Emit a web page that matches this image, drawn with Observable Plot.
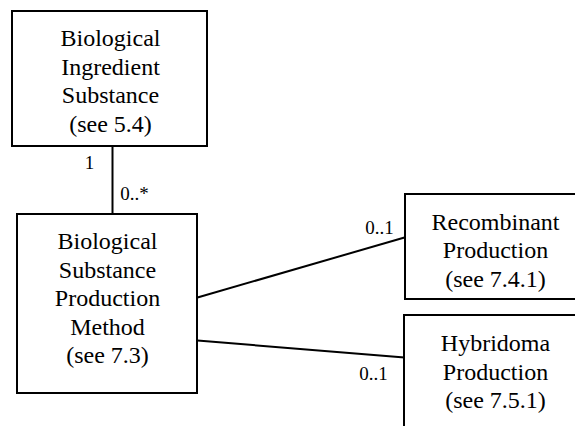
<!DOCTYPE html>
<html><head><meta charset="utf-8">
<script src="https://cdn.jsdelivr.net/npm/d3@7"></script>
<script src="https://cdn.jsdelivr.net/npm/@observablehq/plot@0.6"></script>
<style>html,body{margin:0;padding:0;background:#fff;overflow:hidden}</style>
</head><body><div id="chart"></div>
<script>
// Classes (boxes) of the UML diagram
const classNames = [
  "Biological\nIngredient\nSubstance\n(see 5.4)",
  "Biological\nSubstance\nProduction\nMethod\n(see 7.3)",
  "Recombinant\nProduction\n(see 7.4.1)",
  "Hybridoma\nProduction\n(see 7.5.1)"
];
const classLeft = [12, 17, 405, 404];
const classRight = [207, 197, 592, 592];
const classTop = [11, 214, 194, 315];
const classBottom = [146, 393, 299, 445];
const classTextX = [110, 107, 495, 495];
const classTextY = [79.5, 296.5, 248.5, 370];

// Associations
const assocX1 = [112, 197, 197];
const assocY1 = [146, 297, 340];
const assocX2 = [112, 404, 404];
const assocY2 = [214, 237, 357];

// Multiplicity labels
const multText = ["1", "0..*", "0..1", "0..1"];
const multX = [89, 134, 379, 373];
const multY = [162, 193, 227, 373];

const boxes = classNames.map((name, i) => ({
  name, x1: classLeft[i], x2: classRight[i], y1: classTop[i], y2: classBottom[i],
  tx: classTextX[i], ty: classTextY[i]
}));
const assocs = assocX1.map((x, i) => ({x1: x, y1: assocY1[i], x2: assocX2[i], y2: assocY2[i]}));
const mults = multText.map((t, i) => ({t, x: multX[i], y: multY[i]}));

const chart = Plot.plot({
  width: 575,
  height: 426,
  margin: 0,
  x: {domain: [0, 575], range: [0, 575], axis: null},
  y: {domain: [0, 426], range: [0, 426], axis: null},
  marks: [
    Plot.link(assocs, {x1: "x1", y1: "y1", x2: "x2", y2: "y2", stroke: "black", strokeWidth: 2}),
    Plot.rect(boxes, {x1: "x1", x2: "x2", y1: "y1", y2: "y2", fill: "white", stroke: "black", strokeWidth: 2, clip: true}),
    Plot.text(boxes, {x: "tx", y: "ty", text: "name", fontSize: 24, lineHeight: 1.19, fontFamily: "Times New Roman"}),
    Plot.text(mults, {x: "x", y: "y", text: "t", fontSize: 19, fontFamily: "serif"})
  ]
});
document.getElementById("chart").appendChild(chart);
</script>
</body></html>
